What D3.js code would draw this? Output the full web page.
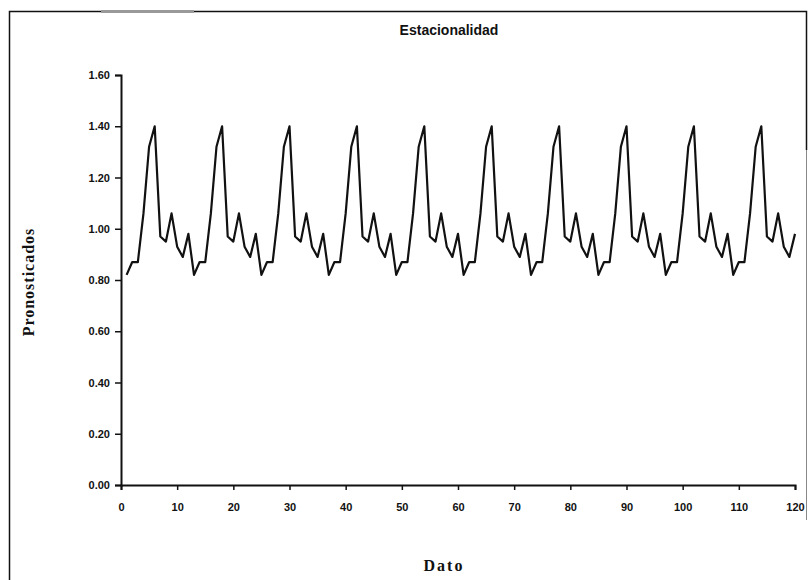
<!DOCTYPE html>
<html>
<head>
<meta charset="utf-8">
<script src="https://cdn.jsdelivr.net/npm/d3@7"></script>
<style>
  body { margin: 0; background: #fff; }
  .tick text { font-family: Arial, "Liberation Sans", sans-serif; font-size: 11px; font-weight: bold; fill: #111; }
  .axis-title { font-family: "Liberation Serif", "Times New Roman", serif; font-size: 16px; font-weight: bold; fill: #111; }
</style>
</head>
<body>
<div id="wrapper"></div>
<script>
// seasonal forecast values, one per dato (1..120)
const datos = d3.range(1, 121)
const pronosticados = [
  0.82, 0.87, 0.87, 1.06, 1.32, 1.40, 0.97, 0.95, 1.06, 0.93, 0.89, 0.98,
  0.82, 0.87, 0.87, 1.06, 1.32, 1.40, 0.97, 0.95, 1.06, 0.93, 0.89, 0.98,
  0.82, 0.87, 0.87, 1.06, 1.32, 1.40, 0.97, 0.95, 1.06, 0.93, 0.89, 0.98,
  0.82, 0.87, 0.87, 1.06, 1.32, 1.40, 0.97, 0.95, 1.06, 0.93, 0.89, 0.98,
  0.82, 0.87, 0.87, 1.06, 1.32, 1.40, 0.97, 0.95, 1.06, 0.93, 0.89, 0.98,
  0.82, 0.87, 0.87, 1.06, 1.32, 1.40, 0.97, 0.95, 1.06, 0.93, 0.89, 0.98,
  0.82, 0.87, 0.87, 1.06, 1.32, 1.40, 0.97, 0.95, 1.06, 0.93, 0.89, 0.98,
  0.82, 0.87, 0.87, 1.06, 1.32, 1.40, 0.97, 0.95, 1.06, 0.93, 0.89, 0.98,
  0.82, 0.87, 0.87, 1.06, 1.32, 1.40, 0.97, 0.95, 1.06, 0.93, 0.89, 0.98,
  0.82, 0.87, 0.87, 1.06, 1.32, 1.40, 0.97, 0.95, 1.06, 0.93, 0.89, 0.98
]
const xTicks = d3.range(0, 121, 10)
const yTicks = [0, 0.2, 0.4, 0.6, 0.8, 1.0, 1.2, 1.4, 1.6]

const dataset = datos.map((d, i) => ({ dato: d, valor: pronosticados[i] }))
const xAccessor = d => d.dato
const yAccessor = d => d.valor

let dimensions = {
  width: 808,
  height: 580,
  margin: { top: 75, right: 13, bottom: 95, left: 121 },
}
dimensions.boundedWidth = dimensions.width - dimensions.margin.left - dimensions.margin.right
dimensions.boundedHeight = dimensions.height - dimensions.margin.top - dimensions.margin.bottom

const wrapper = d3.select("#wrapper")
  .append("svg")
  .attr("width", dimensions.width)
  .attr("height", dimensions.height)

// outer frame of the scanned chart
wrapper.append("path")
  .attr("d", "M9.5,580 V11.5 H806.5 V150")
  .attr("fill", "none").attr("stroke", "#111").attr("stroke-width", 1.5)
wrapper.append("path")
  .attr("d", "M806.5,150 V520")
  .attr("fill", "none").attr("stroke", "#888").attr("stroke-width", 1)
wrapper.append("line")
  .attr("x1", 101).attr("x2", 194).attr("y1", 11.5).attr("y2", 11.5)
  .attr("stroke", "#999").attr("stroke-width", 3)

const bounds = wrapper.append("g")
  .attr("transform", `translate(${dimensions.margin.left}, ${dimensions.margin.top})`)

const xScale = d3.scaleLinear()
  .domain([0, 120])
  .range([0, dimensions.boundedWidth])

const yScale = d3.scaleLinear()
  .domain([0, 1.6])
  .range([dimensions.boundedHeight, 0])

const lineGenerator = d3.line()
  .x(d => xScale(xAccessor(d)))
  .y(d => yScale(yAccessor(d)))

bounds.append("path")
  .attr("d", lineGenerator(dataset))
  .attr("fill", "none")
  .attr("stroke", "#111")
  .attr("stroke-width", 2.2)
  .attr("stroke-linejoin", "round")

const yAxis = bounds.append("g")
  .call(d3.axisLeft(yScale).tickValues(yTicks).tickFormat(d3.format(".2f")).tickSize(6).tickPadding(5))
const xAxis = bounds.append("g")
  .attr("transform", `translate(0, ${dimensions.boundedHeight})`)
  .call(d3.axisBottom(xScale).tickValues(xTicks).tickSize(5).tickPadding(13))

bounds.selectAll(".domain").attr("stroke", "#111").attr("stroke-width", 2)
bounds.selectAll(".tick line").attr("stroke", "#111").attr("stroke-width", 1.5)

wrapper.append("text")
  .attr("x", 449).attr("y", 35)
  .attr("text-anchor", "middle")
  .style("font-family", "Arial, 'Liberation Sans', sans-serif")
  .style("font-size", "14px").style("font-weight", "bold").style("fill", "#111")
  .text("Estacionalidad")

wrapper.append("text")
  .attr("class", "axis-title")
  .attr("x", 444).attr("y", 571)
  .attr("text-anchor", "middle")
  .style("letter-spacing", "2px")
  .text("Dato")

wrapper.append("text")
  .attr("class", "axis-title")
  .attr("transform", "translate(34, 282) rotate(-90)")
  .attr("text-anchor", "middle")
  .style("letter-spacing", "1px")
  .text("Pronosticados")
</script>
</body>
</html>
